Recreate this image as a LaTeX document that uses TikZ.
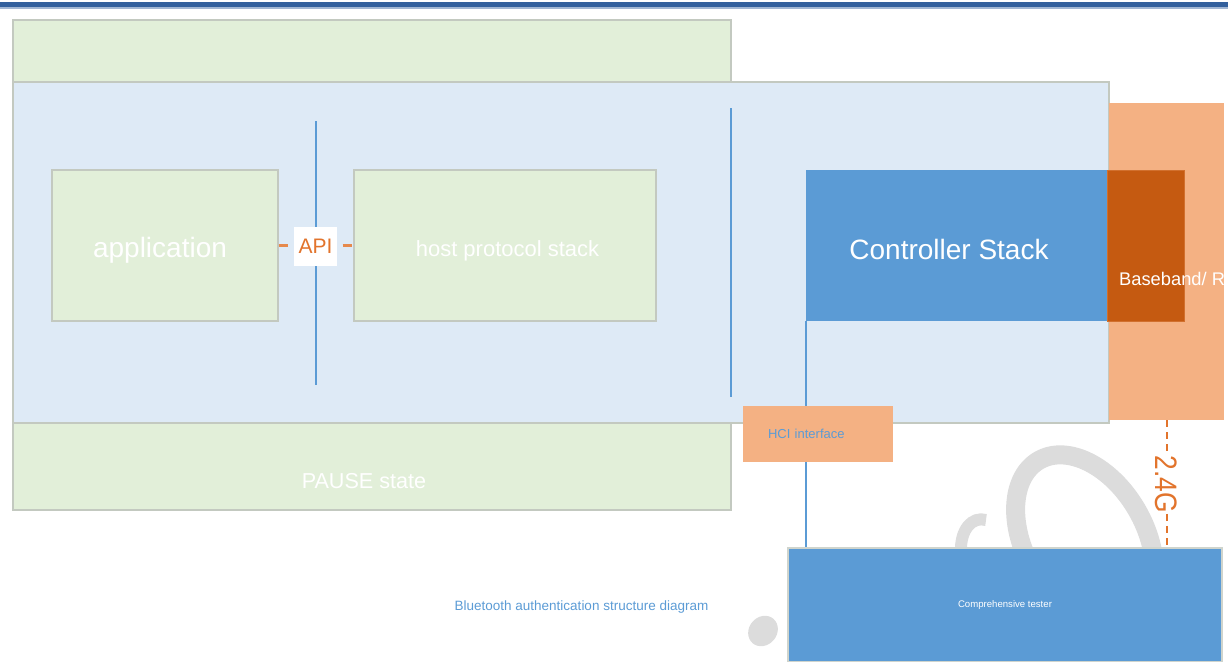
\documentclass[tikz,border=0pt]{standalone}
\usepackage{fontspec}
\setmainfont{Liberation Sans}
\usetikzlibrary{positioning,calc}
\definecolor{paleGreen}{HTML}{E2EFD9}
\definecolor{paleBlue}{HTML}{DEEAF6}
\definecolor{midBlue}{HTML}{5B9BD5}
\definecolor{lightOrange}{HTML}{F4B183}
\definecolor{darkOrange}{HTML}{C55A11}
\definecolor{txtOrange}{HTML}{E2742C}
\definecolor{edgeGray}{HTML}{C3C9C0}
\definecolor{barBlue}{HTML}{33609D}
\definecolor{markGray}{HTML}{DCDCDC}

\begin{document}
\begin{tikzpicture}[
  x=1pt, y=-1pt,
  greenbox/.style={rectangle, draw=edgeGray, line width=1.2pt, fill=paleGreen, inner sep=0pt},
  bluebox/.style ={rectangle, draw=edgeGray, line width=1.2pt, fill=paleBlue, inner sep=0pt},
  ctrlbox/.style ={rectangle, fill=midBlue, inner sep=0pt},
  rfbox/.style   ={rectangle, fill=lightOrange, inner sep=0pt},
  bbbox/.style   ={rectangle, fill=darkOrange, draw=darkOrange!75!lightOrange, line width=1pt, inner sep=0pt},
  divider/.style ={draw=midBlue, line width=2.4pt},
  apiline/.style ={draw=txtOrange!85, line width=2.4pt, dash pattern=on 9pt off 7pt},
  rfline/.style  ={draw=txtOrange, line width=2pt, dash pattern=on 7pt off 5pt},
  wtxt/.style    ={text=white, inner sep=0pt},
]
\useasboundingbox (0,0) rectangle (1228,661);
% title bar
\fill[barBlue] (0,2.5) rectangle (1228,7.5);
\fill[barBlue!45] (0,7.5) rectangle (1228,9);
% host side
\node[greenbox, minimum width=718pt, minimum height=490pt] (pause) at (372,265) {};
\node[wtxt, font=\fontsize{21.6}{24}\selectfont] (pausetxt) at (364,481) {PAUSE state};
\node[bluebox, minimum width=1096pt, minimum height=341pt] (host) at (561,252.5) {};
\node[greenbox, minimum width=226pt, minimum height=151pt] (app) at (165,245.5) {};
\node[wtxt, font=\fontsize{28}{32}\selectfont] (apptxt) at (160,250.5) {application};
\node[greenbox, minimum width=302pt, minimum height=151pt] (proto) at (505,245.5) {};
\node[wtxt, font=\fontsize{22}{25}\selectfont] (prototxt) at (507.5,251) {host protocol stack};
\coordinate (d1a) at (316,121); \coordinate (d1b) at (316,385);
\coordinate (d2a) at (731,108); \coordinate (d2b) at (731,397);
\draw[divider] (d1a) -- (d1b);
\draw[divider] (d2a) -- (d2b);
\draw[apiline] (app) -- (proto);
\node[fill=white, text=txtOrange, minimum width=43pt, minimum height=39pt, inner sep=0pt, font=\fontsize{21}{24}\selectfont] (api) at (315.5,246.5) {API};
% controller side
\node[rfbox, minimum width=115pt, minimum height=317pt] (rfcol) at (1166.5,261.5) {};
\node[ctrlbox, minimum width=303pt, minimum height=151pt] (ctrl) at (957.5,245.5) {};
\node[wtxt, font=\fontsize{28}{32}\selectfont] (ctrltxt) at (949,249) {Controller Stack};
\node[bbbox, minimum width=77pt, minimum height=151pt] (bb) at (1145.5,245.5) {};
\node[wtxt, anchor=west, font=\fontsize{18.3}{21}\selectfont] (bbtxt) at (1119,279) {Baseband/ R};
% watermark
\draw[markGray, line width=19pt, rotate around={30:(1085,540)}] (1085,540) ellipse [x radius=60, y radius=92];
\draw[markGray, line width=12pt] (961,552) .. controls (960,530) and (972,516) .. (986,520);
\fill[markGray, rotate around={-40:(763,631)}] (763,631) ellipse [x radius=14, y radius=16];
% tester and links
\node[ctrlbox, draw=edgeGray!80, line width=1.2pt, text=white, minimum width=434pt, minimum height=114pt, font=\fontsize{9.6}{11}\selectfont] (tester) at (1005,605) {Comprehensive tester};
\draw[divider, line width=2pt] (ctrl.south west) -- (ctrl.south west |- tester.north);
\node[rfbox, text=midBlue, text width=100pt, inner xsep=25pt, minimum height=56pt, align=left, font=\fontsize{13}{15}\selectfont] (hci) at (818,434) {HCI interface};
\node[fill=white, text=txtOrange, rotate=-90, inner sep=1pt, font=\fontsize{31}{34}\selectfont] (ghz) at (1166.5,484) {\scalebox{0.85}[1]{2.4G}};
\draw[rfline] (rfcol) -- (ghz);
\draw[rfline] (ghz) -- (ghz |- tester.north);
% caption
\node[text=midBlue, font=\fontsize{13.5}{16}\selectfont] (caption) at (581.5,607) {Bluetooth authentication structure diagram};
\end{tikzpicture}
\end{document}
